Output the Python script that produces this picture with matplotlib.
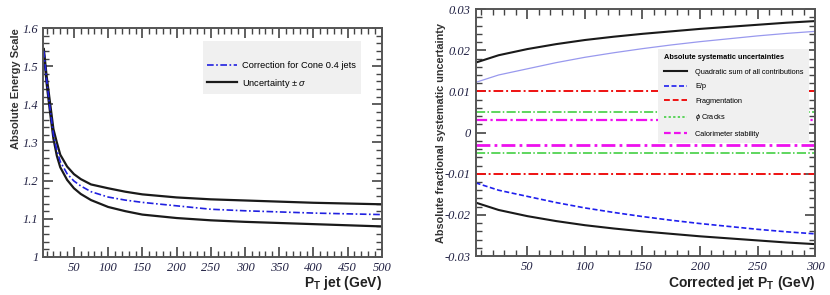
import numpy as np
import matplotlib.pyplot as plt
from matplotlib.ticker import MultipleLocator, FuncFormatter

# left panel: absolute energy scale vs pT
pt_left = [6, 10, 15, 20, 25, 30, 40, 50, 60, 75, 100, 125, 150, 200, 250, 300, 350, 400, 450, 500]
scale_up = [1.545, 1.475, 1.405, 1.335, 1.30, 1.268, 1.237, 1.217, 1.204, 1.190, 1.180, 1.171,
            1.164, 1.156, 1.151, 1.148, 1.145, 1.142, 1.140, 1.138]
scale_down = [1.535, 1.455, 1.38, 1.31, 1.265, 1.235, 1.202, 1.180, 1.165, 1.149, 1.131, 1.12,
              1.111, 1.102, 1.096, 1.092, 1.089, 1.086, 1.083, 1.080]
scale_corr = [1.54, 1.465, 1.39, 1.32, 1.28, 1.25, 1.218, 1.199, 1.186, 1.171, 1.157, 1.149,
              1.143, 1.134, 1.125, 1.121, 1.118, 1.115, 1.113, 1.111]

# right panel: systematic uncertainties vs corrected pT
pt_right = [5, 25, 50, 75, 100, 125, 150, 175, 200, 225, 250, 275, 300]
quad_sum = [0.0170, 0.0188, 0.0203, 0.0215, 0.0225, 0.0233, 0.0240, 0.0246, 0.0252, 0.0257,
            0.0262, 0.0267, 0.0271]
e_over_p = [0.0122, 0.0140, 0.0155, 0.0170, 0.0183, 0.0194, 0.0204, 0.0213, 0.0221, 0.0228,
            0.0235, 0.0241, 0.0246]
fragmentation = 0.010
phi_cracks = 0.005
calo_stability = 0.003

plt.rcParams['font.family'] = ['Liberation Sans', 'DejaVu Sans']
plt.rcParams['mathtext.fontset'] = 'custom'
plt.rcParams['mathtext.rm'] = 'Liberation Sans'
plt.rcParams['mathtext.it'] = 'Liberation Sans:italic'
plt.rcParams['mathtext.bf'] = 'Liberation Sans:bold'


def style_axes(ax):
    for sp in ax.spines.values():
        sp.set_color('#555555')
        sp.set_linewidth(1.4)
    ax.tick_params(which='both', direction='in', top=True, right=True, colors='#444444',
                   labelcolor='#222244')
    ax.tick_params(which='major', length=7, width=1.2)
    ax.tick_params(which='minor', length=4, width=1.0)
    for lab in ax.get_xticklabels() + ax.get_yticklabels():
        lab.set_fontfamily('Liberation Serif')
        lab.set_fontstyle('italic')
        lab.set_fontsize(9)


fig = plt.figure(figsize=(8.3, 2.95), dpi=100)
ax1 = fig.add_axes([0.052, 0.129, 0.408, 0.776])
ax2 = fig.add_axes([0.573, 0.132, 0.409, 0.837])

# ---- left panel
ax1.plot(pt_left, scale_up, color='#1a1a1a', lw=1.6)
ax1.plot(pt_left, scale_down, color='#1a1a1a', lw=1.6, label='Uncertainty $\\pm$ $\\sigma$')
ax1.plot(pt_left, scale_corr, color='#2020e0', lw=1.2, ls=(0, (4, 1.5, 1, 1.5)),
         label='Correction for Cone 0.4 jets')
ax1.set_xlim(5, 500)
ax1.set_ylim(1.0, 1.6)
ax1.xaxis.set_major_locator(MultipleLocator(50))
ax1.xaxis.set_minor_locator(MultipleLocator(10))
ax1.yaxis.set_major_locator(MultipleLocator(0.1))
ax1.yaxis.set_minor_locator(MultipleLocator(0.02))
ax1.yaxis.set_major_formatter(FuncFormatter(lambda v, p: '%g' % round(v, 2)))
ax1.set_xticks([50, 100, 150, 200, 250, 300, 350, 400, 450, 500])
style_axes(ax1)
ax1.set_xlabel('P$_\\mathbf{T}$ jet (GeV)', fontsize=10, fontweight='bold', loc='right',
               color='#222222', labelpad=0)
ax1.set_ylabel('Absolute Energy Scale', fontsize=8, fontweight='bold', loc='top',
               color='#333333', labelpad=1)
h, l = ax1.get_legend_handles_labels()
leg1 = ax1.legend(h[::-1], l[::-1], loc='upper right', bbox_to_anchor=(0.938, 0.943),
                  fontsize=6.7, title=' ', title_fontsize=6.7,
                  frameon=True, facecolor='#f0f0f0', edgecolor='none', fancybox=False,
                  framealpha=1, borderpad=0.5, handlelength=3.2, handletextpad=0.55,
                  labelspacing=0.7, borderaxespad=0)

# ---- right panel
ax2.plot(pt_right, quad_sum, color='#1a1a1a', lw=1.5, label='Quadratic sum of all contributions')
ax2.plot(pt_right, -np.array(quad_sum), color='#1a1a1a', lw=1.5)
ax2.plot(pt_right, e_over_p, color='#9999ee', lw=0.9)
ax2.plot(pt_right, -np.array(e_over_p), color='#1f1fee', lw=1.2, ls=(0, (3, 1.5)), label='E/p')
ax2.axhline(fragmentation, color='#ee1111', lw=1.4, ls=(0, (5, 1.5, 1, 1.5)), label='Fragmentation')
ax2.axhline(-fragmentation, color='#ee1111', lw=1.4, ls=(0, (5, 1.5, 1, 1.5)))
ax2.axhline(phi_cracks, color='#33cc33', lw=1.1, ls=(0, (6, 1.5, 1, 1.5)), label='$\\phi$ Cracks')
ax2.axhline(-phi_cracks, color='#33cc33', lw=1.1, ls=(0, (6, 1.5, 1, 1.5)))
ax2.axhline(calo_stability, color='#ee11ee', lw=1.6, ls=(0, (5, 1.5, 1, 1.5)),
            label='Calorimeter stability')
ax2.axhline(-calo_stability, color='#ee11ee', lw=2.0, ls=(0, (5, 1.5, 1, 1.5)))
ax2.set_xlim(5, 300)
ax2.set_ylim(-0.03, 0.03)
ax2.xaxis.set_major_locator(MultipleLocator(50))
ax2.xaxis.set_minor_locator(MultipleLocator(10))
ax2.yaxis.set_major_locator(MultipleLocator(0.01))
ax2.yaxis.set_minor_locator(MultipleLocator(0.002))
ax2.yaxis.set_major_formatter(FuncFormatter(lambda v, p: '%g' % round(v, 3)))
style_axes(ax2)
ax2.set_xlabel('Corrected jet P$_\\mathbf{T}$ (GeV)', fontsize=10, fontweight='bold',
               loc='right', color='#222222', labelpad=1)
ax2.set_ylabel('Absolute fractional systematic uncertainty', fontsize=7.8, fontweight='bold',
               color='#333333', labelpad=-1)
h, l = ax2.get_legend_handles_labels()
ls_map = {'E/p': (0, (3, 1.5)), 'Fragmentation': (0, (3, 1.5)), '$\\phi$ Cracks': (0, (1.5, 1.5)),
          'Calorimeter stability': (0, (3, 1.5))}
leg2 = ax2.legend(h, l, loc='upper right', bbox_to_anchor=(0.982, 0.838), fontsize=5.3,
                  title='Absolute systematic uncertainties', title_fontsize=5.3,
                  frameon=True, facecolor='#f0f0f0', edgecolor='none', fancybox=False,
                  framealpha=1, borderpad=0.7, handlelength=3.2, handletextpad=1.1,
                  labelspacing=1.0, borderaxespad=0)
leg2.get_title().set_fontweight('bold')
leg2._legend_box.align = 'left'
for line, lab in zip(leg2.get_lines(), l):
    if lab in ls_map:
        line.set_linestyle(ls_map[lab])

fig.savefig('out.png', dpi=100)
